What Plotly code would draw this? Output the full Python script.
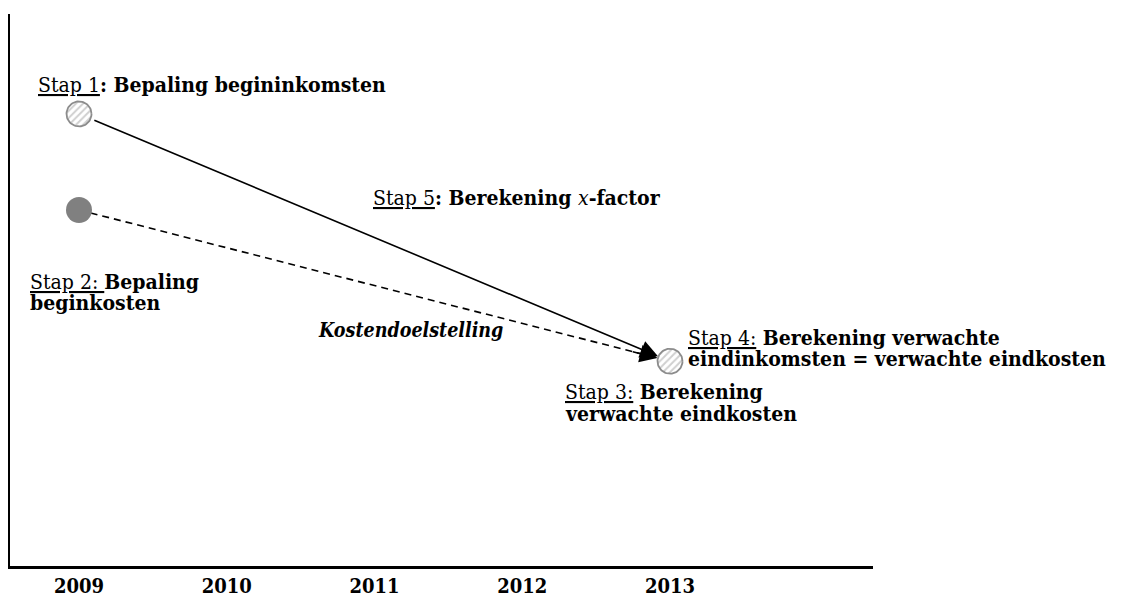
import numpy as np
import plotly.graph_objects as go

# ---- data ----
years = [2009, 2010, 2011, 2012, 2013]
year_labels = ["2009", "2010", "2011", "2012", "2013"]
start_year = 2009
end_year = 2013
begin_inkomsten = 81.9   # Stap 1
begin_kosten = 64.5      # Stap 2
verwacht_eind = 37.1     # Stap 3 / 4

# ---- layout geometry (page body has an 8px margin) ----
W, H = 1121, 600
OFF = 8
ML, MR, MT, MB = 10 - OFF, 1121 - 873 + OFF, 14 - OFF, 600 - 566 + OFF
PW, PH = W - ML - MR, H - MT - MB
x_range = [2008.533, 2014.374]
y_range = [0, 100]
sx = PW / (x_range[1] - x_range[0])
sy = PH / (y_range[1] - y_range[0])

FONT = "DejaVu Serif Condensed, DejaVu Serif, serif"
FS = 21


def pxp(px):
    return (px - OFF - ML) / PW


def pyp(py):
    return (H - MB - (py - OFF)) / PH


def circle(cx, cy, r_px, n=72):
    t = np.linspace(0, 2 * np.pi, n)
    return cx + r_px / sx * np.cos(t), cy + r_px / sy * np.sin(t)


fig = go.Figure()

# dashed cost target line
fig.add_trace(go.Scatter(
    x=[start_year, end_year], y=[begin_kosten, verwacht_eind],
    mode="lines", line=dict(color="black", width=1.6, dash="7px,5px"),
    hoverinfo="skip", showlegend=False))

# gray filled begin costs point
fig.add_trace(go.Scatter(
    x=[start_year], y=[begin_kosten], mode="markers",
    marker=dict(size=26, color="#808080", line=dict(width=0)),
    showlegend=False))

# hatched points
for cx, cy in [(start_year, begin_inkomsten), (end_year, verwacht_eind)]:
    xs, ys = circle(cx, cy, 12.5)
    fig.add_trace(go.Scatter(
        x=xs, y=ys, mode="lines", fill="toself",
        fillcolor="white",
        fillpattern=dict(shape="/", fgcolor="#a0a0a0", bgcolor="white",
                         size=5, solidity=0.4),
        line=dict(color="#8c8c8c", width=1.8),
        hoverinfo="skip", showlegend=False))

annotations = []
# solid arrow (x-factor)
annotations.append(dict(
    x=end_year, y=verwacht_eind, xref="x", yref="y",
    ax=start_year, ay=begin_inkomsten, axref="x", ayref="y",
    showarrow=True, arrowhead=2, arrowsize=2.2, arrowwidth=1.6,
    arrowcolor="black", standoff=13, startstandoff=15, text=""))

# arrowhead for dashed line
dx = (end_year - start_year) * sx
dy = (begin_kosten - verwacht_eind) * sy
L = np.hypot(dx, dy)
annotations.append(dict(
    x=end_year, y=verwacht_eind, xref="x", yref="y",
    ax=-dx / L * 40, ay=-dy / L * 40,
    showarrow=True, arrowhead=2, arrowsize=2.2, arrowwidth=1.6,
    arrowcolor="black", standoff=13, text=""))

# (text, left px, centre px, size)
labels = [
    ("<u>Stap 1</u><b>: Bepaling begininkomsten</b>", 36, 84, FS),
    ("<u>Stap 5</u><b>: Berekening </b><i>x</i><b>-factor</b>", 371, 197, FS),
    ("<u>Stap 2: </u><b>Bepaling</b>", 28, 281, FS),
    ("<b>beginkosten</b>", 28, 302, FS),
    ("<b><i>Kostendoelstelling</i></b>", 316, 330, 19.5),
    ("<u>Stap 4:</u><b> Berekening verwachte</b>", 686, 337, FS),
    ("<b>eindinkomsten = verwachte eindkosten</b>", 686, 358, FS),
    ("<u>Stap 3:</u><b> Berekening</b>", 563, 392, FS),
    ("<b>verwachte eindkosten</b>", 563, 413, FS),
]
for txt, lx, ly, fs in labels:
    annotations.append(dict(
        text=txt, x=pxp(lx), y=pyp(ly), xref="paper", yref="paper",
        xanchor="left", yanchor="middle", align="left", showarrow=False,
        font=dict(family=FONT, size=fs, color="black")))

fig.update_layout(
    width=W, height=H,
    margin=dict(l=ML, r=MR, t=MT, b=MB),
    paper_bgcolor="white", plot_bgcolor="white",
    showlegend=False,
    annotations=annotations,
    xaxis=dict(range=x_range, tickvals=years,
               ticktext=["<b>" + t + "</b>" for t in year_labels],
               showgrid=False, zeroline=False, showline=True,
               linecolor="black", linewidth=2.5, ticks="",
               tickfont=dict(family=FONT, size=20, color="black"),
               fixedrange=True),
    yaxis=dict(range=y_range, showgrid=False, zeroline=False,
               showline=True, linecolor="black", linewidth=2.5,
               showticklabels=False, ticks="", fixedrange=True),
)

fig.write_html("out.html")
